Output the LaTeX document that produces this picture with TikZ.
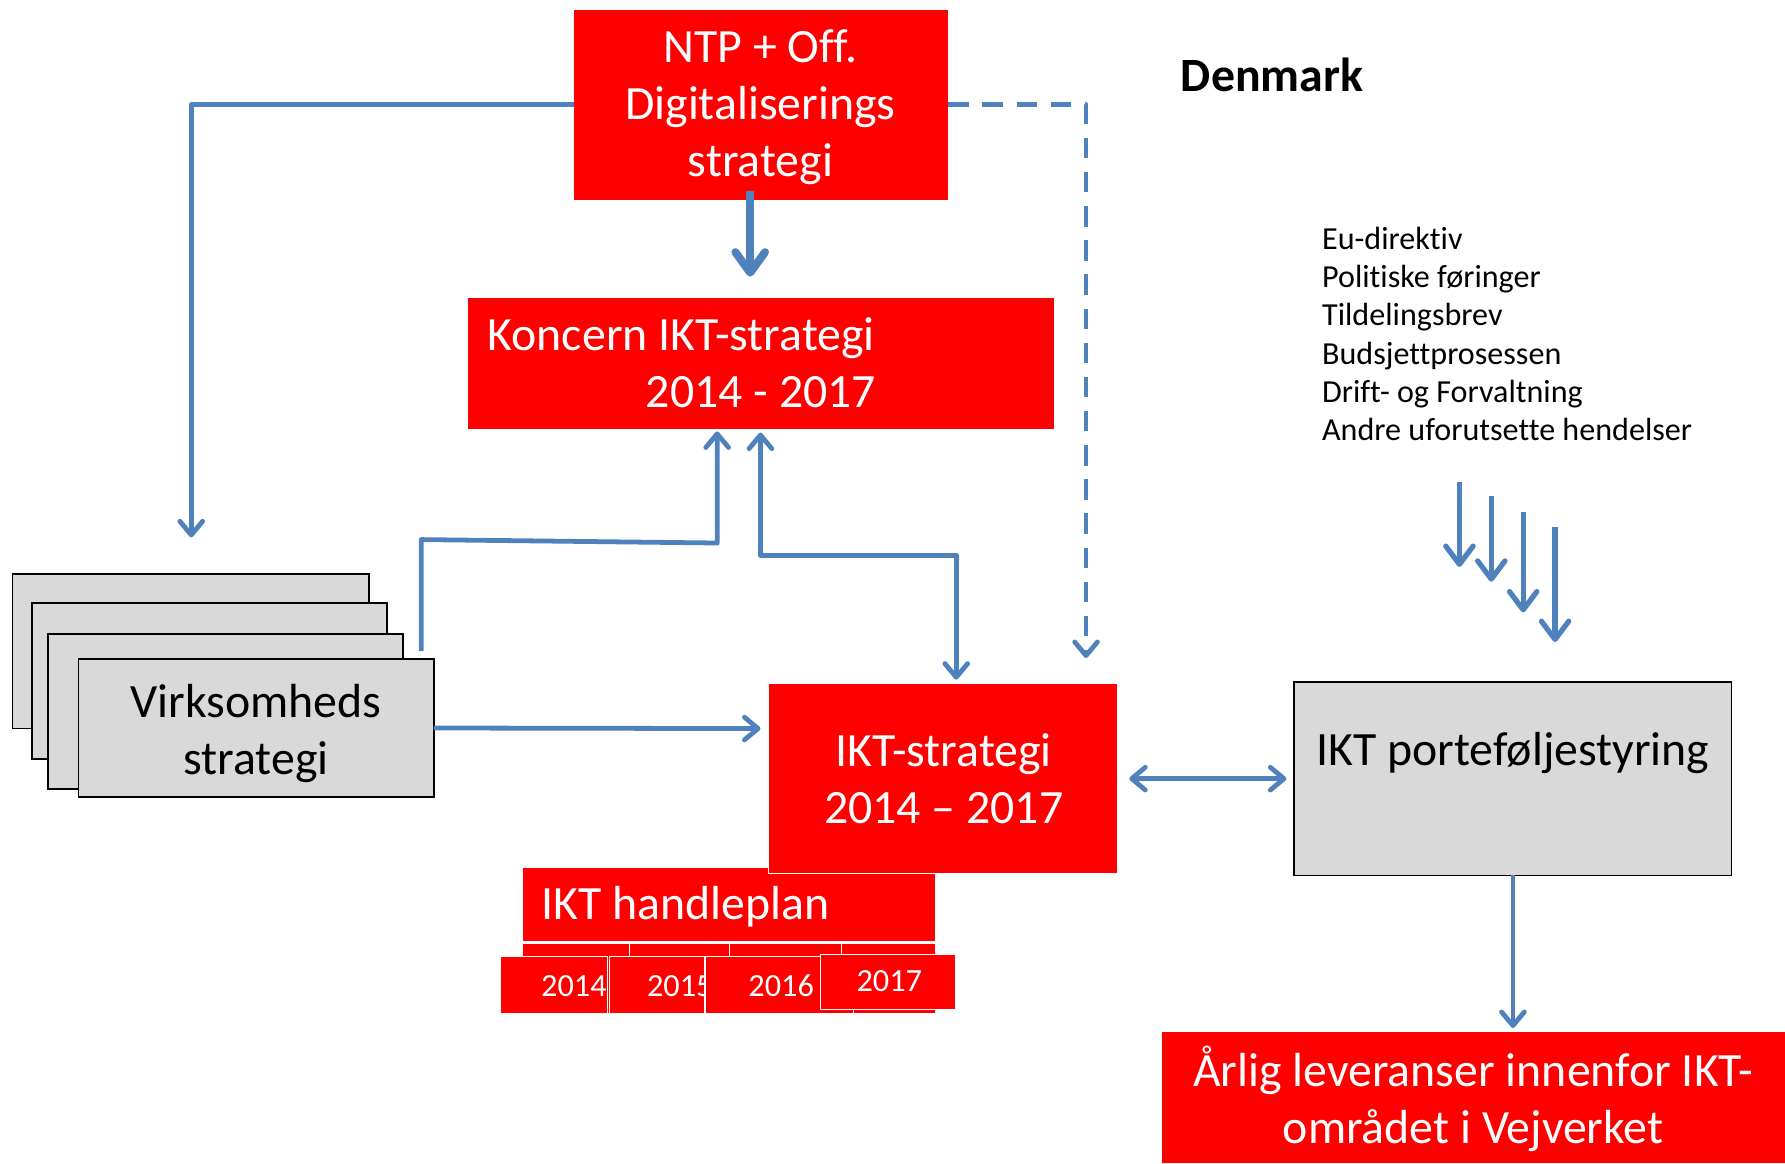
\documentclass[tikz,border=0pt]{standalone}
\usepackage{fontspec}
\setmainfont{Carlito}[Ligatures={NoCommon,NoContextual},RawFeature={-liga;-clig;-dlig}]
\usetikzlibrary{arrows.meta,fit}
\definecolor{pptred}{HTML}{FF0000}
\definecolor{pptblue}{HTML}{4F81BD}
\definecolor{pptgray}{HTML}{D9D9D9}
\begin{document}
\begin{tikzpicture}[x=0.5pt,y=-0.5pt,
  redbox/.style={fill=pptred, draw=white, line width=0.4pt, inner sep=0pt, outer sep=0pt},
  graybox/.style={fill=pptgray, draw=black, line width=0.8pt, inner sep=0pt, outer sep=0pt},
  bigtext/.style={font=\fontsize{21}{25}\selectfont, align=center, inner sep=0pt},
  yeartext/.style={font=\fontsize{14.2}{16}\selectfont, text=white, inner sep=0pt},
  listtext/.style={font=\fontsize{14.1}{16.8}\selectfont, align=left, inner sep=0pt},
  conn/.style={draw=pptblue, line width=2.1pt, line join=round},
  tipend/.style={-{Straight Barb[length=6pt,width=10pt,round]}},
  tipboth/.style={{Straight Barb[length=6pt,width=10pt,round]}-{Straight Barb[length=6pt,width=10pt,round]}},
  bigtip/.style={-{Straight Barb[length=9pt,width=13pt,round]}},
  dashline/.style={dash pattern=on 9pt off 6pt}
]
\fill[white] (0,0) rectangle (1568,1022);
\useasboundingbox (0,0) rectangle (1568,1022);

% top box
\node[redbox, fit={(504,8)(833,176)}] (ntp) {};
\node[bigtext, text=white] (ntpt) at (668,94) {NTP + Off.\\Digitaliserings\\strategi};

% Koncern
\node[redbox, fit={(411,261)(926,377)}] (kon) {};
\node[bigtext, text=white, anchor=base west] (kon1) at (428,308) {Koncern IKT-strategi};
\node[bigtext, text=white, anchor=base east] (kon2) at (770,358) {2014 - 2017};

% Virksomheds stack
\node[graybox, fit={(11,504)(324,640)}] (v1) {};
\node[graybox, fit={(28,530)(340,667)}] (v2) {};
\node[graybox, fit={(42,557)(354,693)}] (v3) {};
\node[graybox, fit={(69,579)(381,700)}] (v4) {};
\node[bigtext] (vt) at (225,644) {Virksomheds\\strategi};

% handleplan
\node[redbox, fit={(459,762)(822,827)}] (hp) {};
\node[bigtext, text=white, anchor=base west] (hpt) at (475,808) {IKT handleplan};
\node[redbox, fit={(459,829)(553,890)}] (hb1) {};
\node[redbox, fit={(553,829)(641,890)}] (hb2) {};
\node[redbox, fit={(641,829)(739,890)}] (hb3) {};
\node[redbox, fit={(739,829)(822,890)}] (hb4) {};
\node[redbox, fit={(440,840)(534,890)}] (y14) {};
\node[yeartext, anchor=base west] (y14t) at (475,875) {2014};
\node[redbox, fit={(535,840)(619,890)}] (y15) {};
\node[yeartext, anchor=base west] (y15t) at (568,875) {2015};
\node[redbox, fit={(620,840)(750,890)}] (y16) {};
\node[yeartext, anchor=base west] (y16t) at (657,875) {2016};
\node[redbox, fit={(721,838)(839,887)}] (y17) {};
\node[yeartext, anchor=base west] (y17t) at (752,871) {2017};

% IKT-strategi
\node[redbox, fit={(675,600)(982,767)}] (ikt) {};
\node[bigtext, text=white] (iktt) at (829,684) {IKT-strategi\\2014 – 2017};

% portefolje
\node[graybox, fit={(1137,599)(1521,769)}] (port) {};
\node[bigtext, anchor=base] (portt) at (1329,672) {IKT porteføljestyring};

% Arlig
\node[redbox, fit={(1020,906)(1568,1022)}] (arl) {};
\node[bigtext, text=white] (arlt) at (1294,965) {Årlig leveranser innenfor IKT-\\området i Vejverket};

% Denmark and list
\node[bigtext, font={\fontsize{21}{25}\selectfont\bfseries}, anchor=west] (dk) at (1037,66) {Denmark};
\node[listtext, anchor=north west] (lst) at (1161,199) {Eu-direktiv\\Politiske føringer\\Tildelingsbrev\\Budsjettprosessen\\Drift- og Forvaltning\\Andre uforutsette hendelser};

% connectors
\coordinate (c1) at (168,472);
\draw[conn, tipend] (ntp.west) -| (c1);
\coordinate (c2s) at (659,168);
\coordinate (c2e) at (659,243);
\draw[conn, line width=3.5pt, bigtip] (c2s) -- (c2e);
\coordinate (c3) at (954,578);
\draw[conn, dashline, tipend] (ntp.east) -| (c3);
\coordinate (c4s) at (370,572);
\coordinate (c4e) at (630,379);
\draw[conn, tipend] (c4s) -- (370,474) -- (630,477) -- (c4e);
\coordinate (c5s) at (668,380);
\coordinate (c5e) at (840,597);
\draw[conn, tipboth] (c5s) -- (668,488) -- (840,488) -- (c5e);
\coordinate (c6e) at (668,640);
\draw[conn, tipend] (v4.east) -- (c6e);
\coordinate (c7s) at (992,684);
\coordinate (c7e) at (1130,684);
\draw[conn, tipboth] (c7s) -- (c7e);
\coordinate (c8e) at (1329,903);
\draw[conn, tipend] (port.south) -- (c8e);
% four input arrows
\coordinate (d1s) at (1282,423); \coordinate (d1e) at (1282,498);
\coordinate (d2s) at (1310,436); \coordinate (d2e) at (1310,511);
\coordinate (d3s) at (1338,450); \coordinate (d3e) at (1338,538);
\coordinate (d4s) at (1366,463); \coordinate (d4e) at (1366,564);
\foreach \i in {1,2,3,4} {\draw[conn, line width=2.3pt, -{Straight Barb[length=8pt,width=12pt,round]}] (d\i s) -- (d\i e);}
\end{tikzpicture}
\end{document}
